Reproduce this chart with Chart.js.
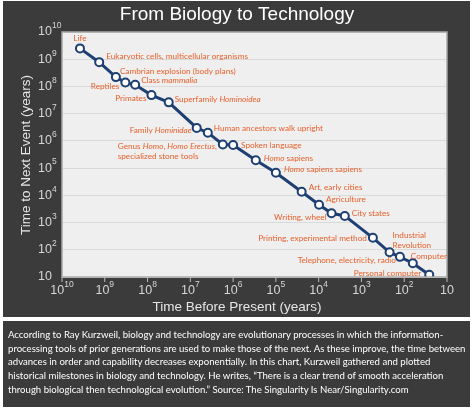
<!DOCTYPE html>
<html><head><meta charset="utf-8">
<script src="https://cdn.jsdelivr.net/npm/chart.js@4/dist/chart.umd.min.js"></script>
<style>
html,body{margin:0;padding:0;background:#fff;width:474px;height:412px;overflow:hidden}
#top{position:absolute;left:3px;top:1px;width:467px;height:316px;background:#3b3b3b}
#bot{position:absolute;left:3px;top:321px;width:467px;height:86px;background:#3b3b3b}
#cap{position:absolute;left:8px;top:328px;width:462px;color:#fff;font:9.6px Lato,sans-serif;line-height:13.7px}
canvas{position:absolute;left:0;top:0}
</style></head><body>
<div id="top"></div><div id="bot"></div>
<canvas id="c" width="474" height="412"></canvas>
<div id="cap">According to Ray Kurzweil, biology and technology are evolutionary processes in which the information-processing tools of prior generations are used to make those of the next. As these improve, the time between advances in order and capability decreases exponentially. In this chart, Kurzweil gathered and plotted historical milestones in biology and technology. He writes, “There is a clear trend of smooth acceleration through biological then technological evolution.” Source: The Singularity Is Near/Singularity.com</div>
<script>
const timeBefore=[3.8e9,1.35e9,5.5e8,3.3e8,1.95e8,8.1e7,3.2e7,7.1e6,3.9e6,1.74e6,1.0e6,2.95e5,1.0e5,2.5e4,9.8e3,5.0e3,2.45e3,540,220,126,63,26];
const timeToNext=[2.5e9,7.8e8,2.2e8,1.4e8,1.15e8,4.8e7,2.6e7,3.0e6,2.0e6,7.4e5,7.1e5,1.95e5,6.8e4,1.35e4,4.5e3,2.2e3,1.75e3,275,81,55,32,12];
const events=["Life","Eukaryotic cells, multicellular organisms","Cambrian explosion (body plans)","Reptiles","Class *mammalia*","Primates","Superfamily *Hominoidea*","Family *Hominidae*","Human ancestors walk upright","Genus *Homo*, *Homo Erectus*,\nspecialized stone tools","Spoken language","*Homo* sapiens","*Homo* sapiens sapiens","Art, early cities","Agriculture","Writing, wheel","City states","Printing, experimental method","Industrial\nRevolution","Telephone, electricity, radio","Computer","Personal computer"];
const tickExps=[10,9,8,7,6,5,4,3,2,1];
// label placement styles: [dx, dy, align]
const labelStyle=[[0,-10,'center'],[7,-6,'left'],[4,-6,'left'],[-6,4,'right'],[6,-4,'left'],[-5,3,'right'],[6,-3,'left'],[-5,2,'right'],[6,-4,'left'],[-6,2,'right'],[8,0,'left'],[8,-2,'left'],[8,-3,'left'],[7,-4,'left'],[7,-5,'left'],[-5,4,'right'],[7,-3,'left'],[-6,1,'right'],[3,-17,'left'],[-4,4,'right'],[-2,-7,'left'],[-8,-1,'right']];
const LF='8.2px Lato, sans-serif', LFI='italic 8.2px Lato, sans-serif';
function segs(s){return s.split('*').map((t,i)=>({t,it:i%2==1}));}
function lineW(ctx,l){let w=0;for(const s of segs(l)){ctx.font=s.it?LFI:LF;w+=ctx.measureText(s.t).width;}return w;}
function drawPow(ctx,e,x,y,align){
  ctx.font='12.5px "Liberation Sans", Arial';const bw=ctx.measureText('10').width;
  let sup=e===1?'':String(e);ctx.font='8.5px "Liberation Sans", Arial';const sw=ctx.measureText(sup).width;
  let x0=align==='center'?x-(bw+sw)/2:x;
  ctx.textAlign='left';ctx.textBaseline='middle';ctx.fillStyle='#d6d6d6';
  ctx.font='12.5px "Liberation Sans", Arial';ctx.fillText('10',x0,y);
  ctx.font='8.5px "Liberation Sans", Arial';ctx.fillText(sup,x0+bw,y-6);
}
const deco={id:'deco',
 beforeDraw(ch){const c=ch.ctx,a=ch.chartArea;c.save();c.fillStyle='#efefef';c.fillRect(a.left,a.top,a.right-a.left,a.bottom-a.top);c.restore();},
 afterDraw(ch){const c=ch.ctx,a=ch.chartArea,xs=ch.scales.x,ys=ch.scales.y;c.save();
  c.strokeStyle='#a8a8a8';c.lineWidth=1.5;c.strokeRect(a.left,a.top,a.right-a.left,a.bottom-a.top);
  c.strokeStyle='#bbb';c.lineWidth=1;
  for(const e of tickExps){const px=xs.getPixelForValue(Math.pow(10,e));c.beginPath();c.moveTo(px,a.bottom);c.lineTo(px,a.bottom+5);c.stroke();
   drawPow(c,e,px,291,'center');
   const py=ys.getPixelForValue(Math.pow(10,e));drawPow(c,e,38,py,'left');}
  c.fillStyle='#fff';c.textAlign='center';c.textBaseline='middle';
  c.font='19px "Liberation Sans", Arial';c.fillText('From Biology to Technology',237,15);
  c.fillStyle='#e6e6e6';c.font='13.5px "Liberation Sans", Arial';c.fillText('Time Before Present (years)',237,307);
  c.translate(26,155);c.rotate(-Math.PI/2);c.fillText('Time to Next Event (years)',0,0);
  c.restore();
  c.save();c.fillStyle='#e8602c';c.textBaseline='middle';c.textAlign='left';
  const meta=ch.getDatasetMeta(0);
  events.forEach((lab,i)=>{const p=meta.data[i];const [dx,dy,al]=labelStyle[i];const lines=lab.split('\n');
   const w0=lineW(c,lines[0]);let sx=al==='left'?p.x+dx:al==='right'?p.x+dx-w0:p.x+dx-w0/2;
   lines.forEach((l,k)=>{let x=sx;const y=p.y+dy+k*10;for(const s of segs(l)){c.font=s.it?LFI:LF;c.fillText(s.t,x,y);x+=c.measureText(s.t).width;}});});
  c.restore();}
};
new Chart(document.getElementById('c'),{type:'line',
 data:{datasets:[{data:timeBefore.map((v,i)=>({x:v,y:timeToNext[i]})),borderColor:'#1d3f72',borderWidth:3,pointRadius:4,pointBackgroundColor:'#fff',pointBorderColor:'#1d3f72',pointBorderWidth:2,tension:0}]},
 options:{responsive:false,animation:false,devicePixelRatio:1,
  layout:{padding:{top:32,right:27,left:0,bottom:0}},
  plugins:{legend:{display:false},tooltip:{enabled:false}},
  scales:{
   x:{type:'logarithmic',reverse:true,min:10,max:1e10,ticks:{display:false},grid:{display:false},border:{display:false},afterFit(s){s.height=135;}},
   y:{type:'logarithmic',min:10,max:1e10,ticks:{display:false},afterBuildTicks(s){s.ticks=tickExps.map(e=>({value:Math.pow(10,e)}));},grid:{color:'#dadada',drawTicks:false},border:{display:false},afterFit(s){s.width=62;}}
  }},
 plugins:[deco]});
</script></body></html>
